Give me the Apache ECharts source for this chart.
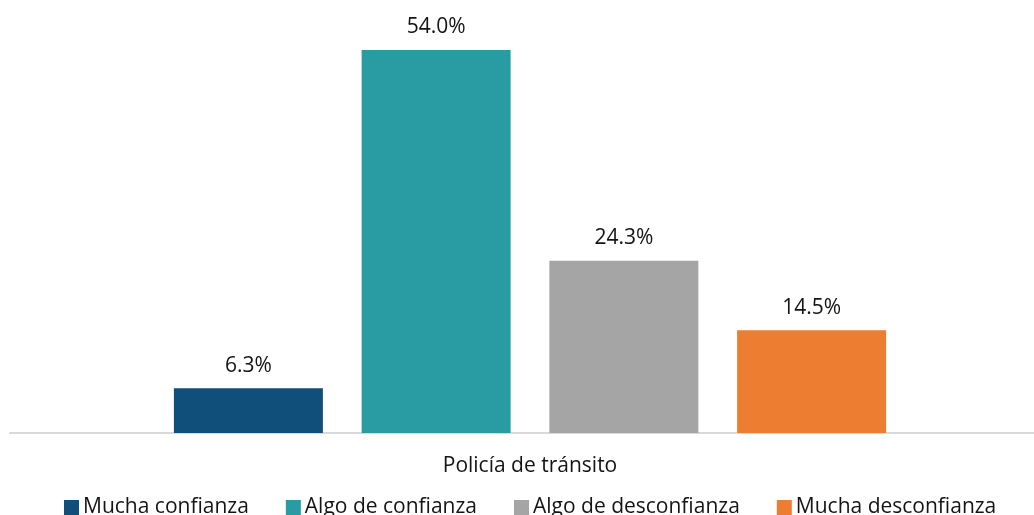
<!DOCTYPE html>
<html lang="es">
<head>
    <meta charset="UTF-8">
    <title>Policía de tránsito</title>
    <script type="text/javascript" src="https://cdn.jsdelivr.net/npm/echarts@6/dist/echarts.min.js"></script>
    <style>
        html, body { margin: 0; padding: 0; background: #fff; }
    </style>
</head>
<body>
<div id="main" style="width: 1034px;height:515px;"></div>
<script type="text/javascript">
    var myChart = echarts.init(document.getElementById('main'));

    // datos
    var categories = ['Policía de tránsito'];
    var seriesNames = ['Mucha confianza', 'Algo de confianza', 'Algo de desconfianza', 'Mucha desconfianza'];
    var muchaConfianza = [6.3];
    var algoConfianza = [54.0];
    var algoDesconfianza = [24.3];
    var muchaDesconfianza = [14.5];
    var colors = ['#114f7b', '#299ba2', '#a5a5a5', '#ed7d31'];

    var values = [muchaConfianza, algoConfianza, algoDesconfianza, muchaDesconfianza];
    var font = '"Open Sans", "Noto Sans", sans-serif';

    var series = [];
    for (var i = 0; i < seriesNames.length; i++) {
        series.push({
            name: seriesNames[i],
            type: 'bar',
            data: values[i],
            barWidth: 149,
            barGap: '26%',
            itemStyle: {color: colors[i]},
            label: {
                show: true,
                position: 'top',
                distance: 12,
                color: '#141414',
                fontFamily: font,
                fontSize: 21,
                formatter: function (p) {
                    return p.value.toFixed(1) + '%';
                }
            }
        });
    }

    var option = {
        animation: false,
        color: colors,
        // grid 0: barras; grid 1: solo la línea del eje (más ancha a la izquierda)
        grid: [
            {left: 26, right: 0, top: 50, bottom: 82},
            {left: 10, right: 0, top: 50, bottom: 82}
        ],
        legend: {
            left: 64,
            top: 497,
            padding: 0,
            itemWidth: 15,
            itemHeight: 15,
            itemGap: 37,
            icon: 'rect',
            textStyle: {
                color: '#141414',
                fontFamily: font,
                fontSize: 21,
                padding: [0, 0, 0, -1]
            },
            data: seriesNames
        },
        xAxis: [
            {
                type: 'category',
                gridIndex: 0,
                data: categories,
                axisLine: {show: false},
                axisTick: {show: false},
                axisLabel: {
                    margin: 23,
                    color: '#141414',
                    fontFamily: font,
                    fontSize: 21
                }
            },
            {
                type: 'category',
                gridIndex: 1,
                data: categories,
                axisLine: {lineStyle: {color: '#d9d9d9', width: 2}},
                axisTick: {show: false},
                axisLabel: {show: false}
            }
        ],
        yAxis: [
            {type: 'value', gridIndex: 0, min: 0, max: 54, show: false},
            {type: 'value', gridIndex: 1, min: 0, max: 54, show: false}
        ],
        series: series
    };

    myChart.setOption(option);
</script>
</body>
</html>
